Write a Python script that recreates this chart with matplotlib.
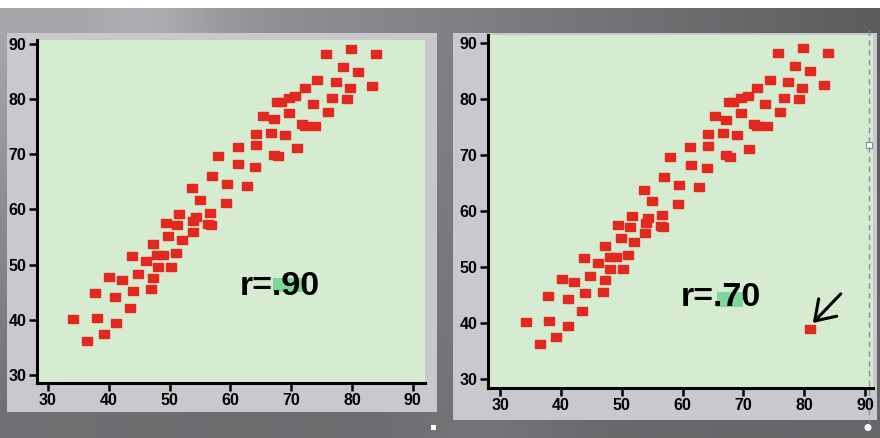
import numpy as np
import matplotlib
matplotlib.use("Agg")
import matplotlib.pyplot as plt
from matplotlib.patches import Rectangle, Circle

# ---------------- data ----------------
x_vals = [75.7, 79.8, 83.9, 78.5, 81.0, 74.3, 77.4, 79.7, 83.3, 72.2,
          70.7, 69.6, 67.6, 68.3, 76.7, 79.1, 73.6, 76.0, 69.6, 65.4,
          67.2, 71.7, 72.3, 73.9, 64.2, 66.7, 68.9, 61.2, 64.2, 70.9,
          58.0, 67.2, 67.8, 61.3, 64.0, 56.9, 59.4, 62.7, 53.7, 55.0,
          59.2, 56.6, 51.6, 54.3, 49.4, 51.3, 53.9, 56.4, 56.8, 49.8,
          53.8, 52.0, 47.3, 43.8, 46.1, 48.0, 49.0, 51.1, 48.1, 50.2,
          40.1, 42.1, 44.8, 47.2, 37.8, 41.1, 44.0, 46.9, 43.5, 34.2,
          38.0, 41.2, 39.2, 36.5]
y_vals = [88.2, 89.1, 88.2, 85.8, 84.9, 83.4, 83.1, 82.0, 82.4, 82.0,
          80.5, 80.2, 79.5, 79.4, 80.2, 80.0, 79.1, 77.6, 77.5, 76.9,
          76.3, 75.5, 75.2, 75.2, 73.7, 73.9, 73.5, 71.4, 71.6, 71.1,
          69.7, 69.9, 69.7, 68.2, 67.7, 66.0, 64.6, 64.2, 63.8, 61.7,
          61.2, 59.3, 59.1, 58.7, 57.5, 57.2, 57.9, 57.4, 57.2, 55.1,
          56.0, 54.5, 53.7, 51.6, 50.7, 51.8, 51.8, 52.1, 49.6, 49.6,
          47.8, 47.3, 48.3, 47.6, 44.9, 44.2, 45.3, 45.6, 42.2, 40.1,
          40.3, 39.5, 37.5, 36.2]
outlier_x = [81.0]
outlier_y = [38.9]
x_ticks = [30, 40, 50, 60, 70, 80, 90]
y_ticks = [30, 40, 50, 60, 70, 80, 90]
r_labels = ["r=.90", "r=.70"]

# ---------------- figure ----------------
W, H = 880, 438
plt.rcParams['font.family'] = ['Liberation Sans', 'DejaVu Sans']
fig = plt.figure(figsize=(8.8, 4.38), dpi=100)

# background (dark gray slide with gradient)
bg = fig.add_axes([0, 0, 1, 1], zorder=0)
bg.set_xlim(0, W)
bg.set_ylim(H, 0)
bg.axis('off')
xs = np.arange(W)
g_top = 0.66 - 0.30 * xs / W + 0.07 * np.exp(-((xs - 150) / 70.0) ** 2)
g_bot = 0.44 - 0.04 * xs / W + 0.04 * np.exp(-((xs - 480) / 80.0) ** 2)
img = np.ones((H, W, 3))
for row in range(8, H):
    t = min(max((row - 30) / 380.0, 0), 1)
    g = g_top * (1 - t) + g_bot * t
    img[row, :, 0] = g
    img[row, :, 1] = g * 0.99
    img[row, :, 2] = g * 1.02
img = np.clip(img, 0, 1)
bg.imshow(img, extent=(0, W, H, 0), aspect='auto', interpolation='bilinear')
bg.add_patch(Rectangle((7, 33), 430, 379, fc='#c9c8cc', ec='none'))
bg.add_patch(Rectangle((453, 33), 424, 387, fc='#c9c8cc', ec='none'))

green = '#d6ecd0'
red = '#e3281f'
rect_marker = [(-1.15, -1), (1.15, -1), (1.15, 1), (-1.15, 1), (-1.15, -1)]


def style_axes(ax, xlim, ylim):
    ax.set_facecolor(green)
    ax.set_xlim(*xlim)
    ax.set_ylim(*ylim)
    ax.set_xticks(x_ticks, labels=[str(t) for t in x_ticks],
                  fontweight='bold', fontsize=11.5)
    ax.set_yticks(y_ticks, labels=[str(t) for t in y_ticks],
                  fontweight='bold', fontsize=11.5)
    for s in ('top', 'right'):
        ax.spines[s].set_visible(False)
    for s in ('left', 'bottom'):
        ax.spines[s].set_linewidth(2.2)
        ax.spines[s].set_color('black')
    ax.tick_params(direction='out', length=6, width=1.8,
                   pad=1.5, colors='black')


# left panel
axL = fig.add_axes([37 / W, 1 - 383 / H, (425 - 37) / W, (383 - 40) / H], zorder=2)
style_axes(axL, (28.2, 92.0), (28.55, 90.7))
axL.plot(x_vals, y_vals, ls='none', marker=rect_marker, ms=6.6, color=red,
         mec=red, zorder=3)
axL.add_patch(Rectangle((67.0, 45.0), 5.6, 2.6, fc='#6fd392', ec='none',
                        alpha=0.85, zorder=4))
axL.text(68.2, 46.1, r_labels[0], ha='center', va='center', fontsize=24.5,
         fontweight='bold', color='black', zorder=5)

# right panel
axR = fig.add_axes([488 / W, 1 - 388 / H, (873 - 488) / W, (388 - 35) / H], zorder=2)
style_axes(axR, (28.0, 91.3), (28.4, 91.4))
axR.plot(x_vals + outlier_x, y_vals + outlier_y, ls='none', marker=rect_marker,
         ms=6.6, color=red, mec=red, zorder=3)
axR.add_patch(Rectangle((65.7, 42.9), 4.3, 2.6, fc='#6fd392', ec='none',
                        alpha=0.85, zorder=4))
axR.text(66.3, 44.6, r_labels[1], ha='center', va='center', fontsize=24.5,
         fontweight='bold', color='black', zorder=5)
axR.annotate('', xy=(81.4, 40.0), xytext=(86.0, 45.2),
             arrowprops=dict(arrowstyle='->,head_length=0.45,head_width=0.3',
                             lw=2.2, color='black', mutation_scale=30,
                             shrinkA=0, shrinkB=0), zorder=5)

# foreground decorations (selection handles, dashed guide)
fg = fig.add_axes([0, 0, 1, 1], zorder=6)
fg.set_xlim(0, W)
fg.set_ylim(H, 0)
fg.axis('off')
fg.patch.set_alpha(0)
fg.plot([869, 869], [30, 422], ls=(0, (4, 3)), color='#7d90a6', lw=1)
fg.add_patch(Rectangle((866, 142), 6, 6, fc='white', ec='#7d8a99', lw=0.8))
fg.add_patch(Circle((868, 427.5), 3.5, fc='white', ec='none'))
fg.add_patch(Rectangle((431, 425), 5, 5, fc='white', ec='none'))

fig.savefig('out.png', dpi=100)
